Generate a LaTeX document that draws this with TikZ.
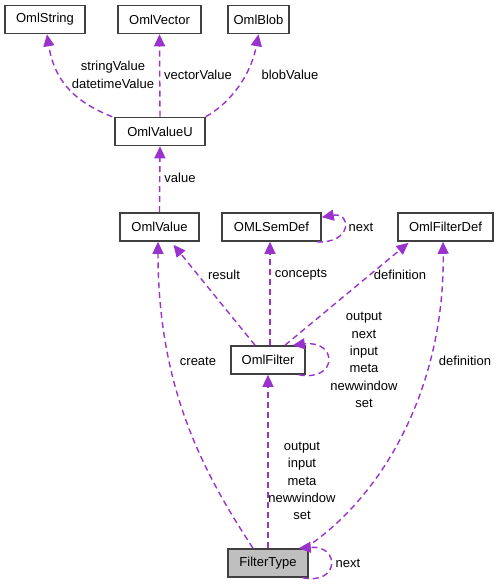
\documentclass[tikz,border=0pt]{standalone}
\usepackage{fontspec}
\setmainfont{Liberation Sans}
\usetikzlibrary{arrows.meta}
\definecolor{edgec}{HTML}{9A32CD}
\definecolor{boxc}{HTML}{404040}
\tikzset{
  cls/.style={draw=boxc, line width=1.6pt, fill=white, minimum height=28pt, inner sep=0pt, font=\fontsize{13}{17.3}\selectfont},
  rel/.style={draw=edgec, line width=1.4pt, dash pattern=on 6pt off 4pt, -{Triangle[length=12pt,width=11pt]}},
  lbl/.style={font=\fontsize{13}{17.3}\selectfont, align=center, inner sep=0pt},
}
\begin{document}
\begin{tikzpicture}[x=1pt,y=-1pt]
\useasboundingbox (0,0) rectangle (500,585);
% classes
\node[cls, minimum width=80pt] (str) at (45,19.5) {OmlString};
\node[cls, minimum width=83pt] (vec) at (159.5,19.5) {OmlVector};
\node[cls, minimum width=61pt] (blob) at (258.5,19.5) {OmlBlob};
\node[cls, minimum width=90pt] (vu) at (160,131.5) {OmlValueU};
\node[cls, minimum width=79pt] (val) at (159.5,227) {OmlValue};
\node[cls, minimum width=99pt] (sem) at (271.5,227) {OMLSemDef};
\node[cls, minimum width=95pt] (fd) at (445.5,227) {OmlFilterDef};
\node[cls, minimum width=74pt] (flt) at (268,360) {OmlFilter};
\node[cls, minimum width=80pt, fill=black!25] (ft) at (268,563) {FilterType};
% anchor coordinates
\coordinate (vuA) at ([xshift=-2pt]vu.north west);
\coordinate (vuB) at (vu.north);
\coordinate (vuC) at (vu.north east);
% edges
\draw[rel] (vuA) .. controls (80,104) and (55,85) .. ([xshift=2pt]str.south);
\draw[rel] (vuB) -- (vec.south);
\draw[rel] (vuC) .. controls (235,100) and (252,70) .. (blob.south);
\draw[rel] (val.north) -- (vu.south);
\draw[rel] ([xshift=-13pt]flt.north) -- ([xshift=14pt,yshift=-3pt]val.south);
\draw[rel] ([xshift=2pt]flt.north) -- ([xshift=-1.5pt]sem.south);
\draw[rel] ([xshift=17pt]flt.north) -- ([xshift=-37pt,yshift=-1pt]fd.south);
\draw[rel] (ft.north) -- (flt.south);
\draw[rel] ([xshift=-15pt]ft.north) .. controls (205,475) and (158,390) .. ([xshift=-1.5pt]val.south);
\draw[rel] ([xshift=37pt]ft.north) .. controls (385,495) and (445,385) .. ([xshift=-2.5pt]fd.south);
% self loops
\draw[rel] ([xshift=-5pt]sem.south east) .. controls (352,244) and (352,212) .. ([yshift=-5pt]sem.north east);
\draw[rel] ([xshift=-7pt]flt.south east) .. controls (338,382) and (338,340) .. ([xshift=-13pt]flt.north east);
\draw[rel] ([xshift=-6pt]ft.south east) .. controls (340,585) and (340,545) .. ([xshift=-10pt]ft.north east);
% labels
\node[lbl] (l1) at (113,75) {stringValue\\datetimeValue};
\node[lbl] (l2) at (198,75) {vectorValue};
\node[lbl] (l3) at (290,75) {blobValue};
\node[lbl] (l4) at (180,178) {value};
\node[lbl] (l5) at (224,275) {result};
\node[lbl] (l6) at (301,275) {concepts};
\node[lbl] (l7) at (400,275) {definition};
\node[lbl] (l8) at (361,227) {next};
\node[lbl] (l9) at (364,360) {output\\next\\input\\meta\\newwindow\\set};
\node[lbl] (l10) at (198,361) {create};
\node[lbl] (l11) at (465,361) {definition};
\node[lbl] (l12) at (302,481) {output\\input\\meta\\newwindow\\set};
\node[lbl] (l13) at (348,563) {next};
\end{tikzpicture}
\end{document}
